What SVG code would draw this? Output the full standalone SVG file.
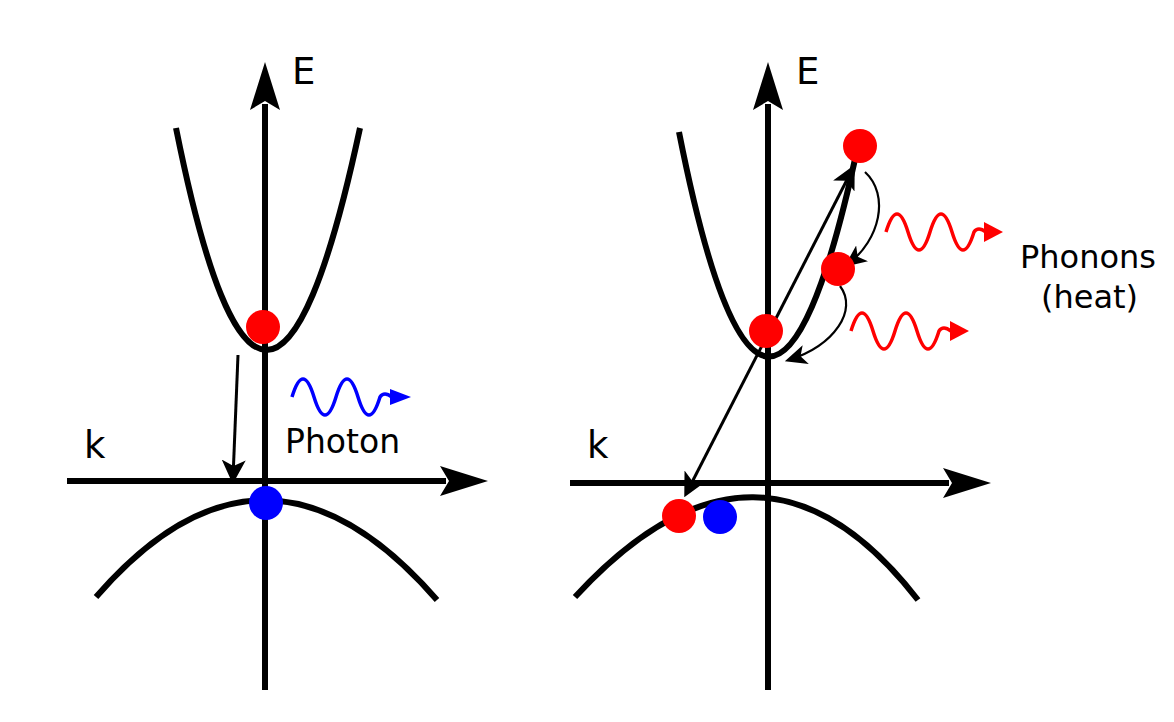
<svg xmlns="http://www.w3.org/2000/svg" width="1174" height="722" viewBox="0 0 1174 722">
<style>
.ax{stroke:#000;stroke-width:6;fill:none}
.band{stroke:#000;stroke-width:6;fill:none}
.thin{stroke:#000;stroke-width:3;fill:none}
.cur{stroke:#000;stroke-width:2.2;fill:none}
.t{font-family:"DejaVu Sans",sans-serif;fill:#000}
</style>
<defs>
<marker id="ah" markerWidth="8" markerHeight="5" refX="1" refY="2.5" orient="auto" markerUnits="strokeWidth"><path d="M0,0 L8,2.5 L0,5 L1.5,2.5z" fill="#000"/></marker>
<marker id="sa" markerWidth="8" markerHeight="8" refX="6" refY="4" orient="auto-start-reverse" markerUnits="strokeWidth"><path d="M0,0 L8,4 L0,8 L2,4z" fill="#000"/></marker>
<marker id="ca" markerWidth="10" markerHeight="9" refX="8" refY="4.5" orient="auto" markerUnits="strokeWidth"><path d="M0,0 L10,4.5 L0,9 L2.5,4.5z" fill="#000"/></marker>
</defs>
<g id="connectors">
<line class="ax" x1="265" y1="690" x2="265" y2="104" marker-end="url(#ah)"/>
<line class="ax" x1="67" y1="481" x2="446" y2="481" marker-end="url(#ah)"/>
<line class="ax" x1="768" y1="690" x2="768" y2="104" marker-end="url(#ah)"/>
<line class="ax" x1="570" y1="483" x2="949" y2="483" marker-end="url(#ah)"/>
<line class="thin" x1="238" y1="355" x2="233" y2="478" marker-end="url(#sa)"/>
<line class="thin" x1="687" y1="492" x2="852" y2="170" marker-start="url(#sa)" marker-end="url(#sa)"/>
<path class="cur" d="M865,172 C890,195 880,240 848,264" marker-end="url(#ca)"/>
<path class="cur" d="M840,286 C858,310 835,345 789,360" marker-end="url(#ca)"/>
</g>
<g id="left-bands">
<path class="band" d="M176,128 Q265,572 360,128"/>
<path class="band" d="M96,597 Q265,402 437,600"/>
</g>
<g id="right-bands">
<path class="band" d="M679,132 Q766,572 857,150"/>
<path class="band" d="M575,597 Q760,396 918,600"/>
</g>
<g id="labels">
<text class="t" x="292" y="84" font-size="37">E</text>
<text class="t" x="84" y="458" font-size="37">k</text>
<text class="t" x="796" y="84" font-size="37">E</text>
<text class="t" x="587" y="458" font-size="37">k</text>
<text class="t" x="285" y="453" font-size="33">Photon</text>
<text class="t" x="1020" y="268" font-size="32">Phonons</text>
<text class="t" x="1041" y="308" font-size="32">(heat)</text>
</g>
<g id="photon">
<path d="M292,397 q11,-36 22,0 q11,36 22,0 q11,-36 22,0 q11,36 22,0 q4,-6 12,0" stroke="#0000ff" stroke-width="3.5" fill="none"/>
<path d="M390,389 L411,397 L390,405z" fill="#0000ff"/>
</g>
<g id="phonon1">
<path d="M886,232 q11,-36 22,0 q11,36 22,0 q11,-36 22,0 q11,36 22,0 q4,-6 12,0" stroke="#ff0000" stroke-width="3.5" fill="none"/>
<path d="M984,222 L1003,232 L984,242z" fill="#ff0000"/>
</g>
<g id="phonon2">
<path d="M851,331 q11,-36 22,0 q11,36 22,0 q11,-36 22,0 q11,36 22,0 q4,-6 12,0" stroke="#ff0000" stroke-width="3.5" fill="none"/>
<path d="M950,321 L969,331 L950,341z" fill="#ff0000"/>
</g>
<g id="particles">
<circle cx="263" cy="327" r="17" fill="#ff0000"/>
<circle cx="266" cy="503" r="17" fill="#0000ff"/>
<circle cx="860" cy="146" r="17" fill="#ff0000"/>
<circle cx="838" cy="269" r="17" fill="#ff0000"/>
<circle cx="766" cy="331" r="17" fill="#ff0000"/>
<circle cx="679" cy="516" r="17" fill="#ff0000"/>
<circle cx="720" cy="517" r="17" fill="#0000ff"/>
</g>
</svg>
